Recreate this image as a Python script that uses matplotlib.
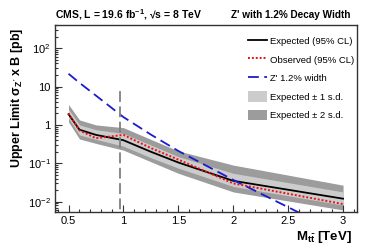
import numpy as np
import matplotlib
matplotlib.use('Agg')
import matplotlib.pyplot as plt
from matplotlib.lines import Line2D
from matplotlib.patches import Patch
from matplotlib.ticker import FixedLocator, MultipleLocator, NullFormatter

plt.rcParams['font.family'] = ['Liberation Sans', 'DejaVu Sans']
plt.rcParams['mathtext.fontset'] = 'custom'
plt.rcParams['mathtext.rm'] = 'Liberation Sans'
plt.rcParams['mathtext.it'] = 'Liberation Sans:italic'
plt.rcParams['mathtext.bf'] = 'Liberation Sans:bold'

# resonance mass points [TeV]
mass = [0.5, 0.6, 0.75, 1.0, 1.25, 1.5, 2.0, 3.0]
expected = [1.9, 0.75, 0.55, 0.40, 0.20, 0.105, 0.035, 0.012]
observed = [2.0, 0.72, 0.45, 0.55, 0.25, 0.125, 0.030, 0.0087]
sd1_low = [1.5, 0.55, 0.42, 0.28, 0.14, 0.075, 0.025, 0.0082]
sd1_high = [2.55, 1.0, 0.75, 0.60, 0.30, 0.15, 0.055, 0.018]
sd2_low = [1.2, 0.43, 0.33, 0.22, 0.11, 0.055, 0.018, 0.0061]
sd2_high = [3.4, 1.35, 1.0, 0.85, 0.42, 0.21, 0.09, 0.027]
zprime = [21.5, 12.5, 5.8, 1.6, 0.56, 0.21, 0.037, 0.0014]

marker_mass = 0.97
ytick_vals = [0.01, 0.1, 1, 10, 100]
ytick_labels = ['10$^{-2}$', '10$^{-1}$', '1', '10', '10$^{2}$']

W, H = 368, 250
fig = plt.figure(figsize=(W / 100, H / 100), dpi=100)
ax = fig.add_axes([55 / W, 38 / H, 302 / W, 187 / H])

ax.fill_between(mass, sd2_low, sd2_high, color='#9c9c9c', lw=0)
ax.fill_between(mass, sd1_low, sd1_high, color='#cccccc', lw=0)
ax.plot(mass, expected, color='black', lw=1.3)
ax.plot(mass, observed, color='#ee1111', lw=1.4, dashes=(1, 1))
ax.plot(mass, zprime, color='#1a1ad0', lw=1.3, dashes=(6, 3))
ax.plot([marker_mass, marker_mass], [0.001, 10], color='#808080', lw=1.3,
        dashes=(6, 2.5))

ax.set_yscale('log')
ax.set_xlim(0.377, 3.127)
ax.set_ylim(0.0054, 400)

ax.xaxis.set_minor_locator(MultipleLocator(0.1))
ax.set_xticks([0.5, 1, 1.5, 2, 2.5, 3])
ax.set_xticklabels(['0.5', '1', '1.5', '2', '2.5', '3'])
ax.yaxis.set_major_locator(FixedLocator(ytick_vals))
ax.set_yticklabels(ytick_labels)
ax.yaxis.set_minor_formatter(NullFormatter())
ax.tick_params(which='both', direction='in', top=False, right=False,
               labelsize=8, width=0.8, color='#333333')
ax.tick_params(which='major', length=5, pad=3)
ax.tick_params(which='minor', length=2.5)
for s in ax.spines.values():
    s.set_linewidth(1.0)
    s.set_color('#333333')

fig.text(55 / W, 1 - 15 / H, 'CMS, L = 19.6 fb$^{\\mathbf{-1}}$, \u221as = 8 TeV',
         fontsize=7.5, fontweight='bold', ha='left', va='center')
fig.text(350 / W, 1 - 15 / H, "Z' with 1.2% Decay Width",
         fontsize=7.2, fontweight='bold', ha='right', va='center')
fig.text(17 / W, 1 - 28 / H, "Upper Limit $\\mathbf{\\sigma_{Z'}}$ x B [pb]",
         fontsize=9, fontweight='bold', rotation=90, ha='center', va='top')
fig.text(352 / W, 1 - 237 / H, '$\\mathbf{M_{t\\bar{t}}}$ [TeV]',
         fontsize=9.5, fontweight='bold', ha='right', va='center')

handles = [
    Line2D([], [], color='black', lw=1.3),
    Line2D([], [], color='#ee1111', lw=1.4, dashes=(1, 1)),
    Line2D([], [], color='#1a1ad0', lw=1.3, dashes=(6, 3)),
    Patch(facecolor='#cccccc', edgecolor='none'),
    Patch(facecolor='#9c9c9c', edgecolor='none'),
]
labels = ['Expected (95% CL)', 'Observed (95% CL)', "Z' 1.2% width",
          'Expected \u00b1 1 s.d.', 'Expected \u00b1 2 s.d.']
ax.legend(handles, labels, loc='upper left', bbox_to_anchor=(243 / W, 1 - 31 / H),
          bbox_transform=fig.transFigure, frameon=False, fontsize=6.8,
          handlelength=2.0, handleheight=1.4, handletextpad=0.4,
          labelspacing=0.8, borderpad=0)

fig.savefig('out.png', dpi=100)
